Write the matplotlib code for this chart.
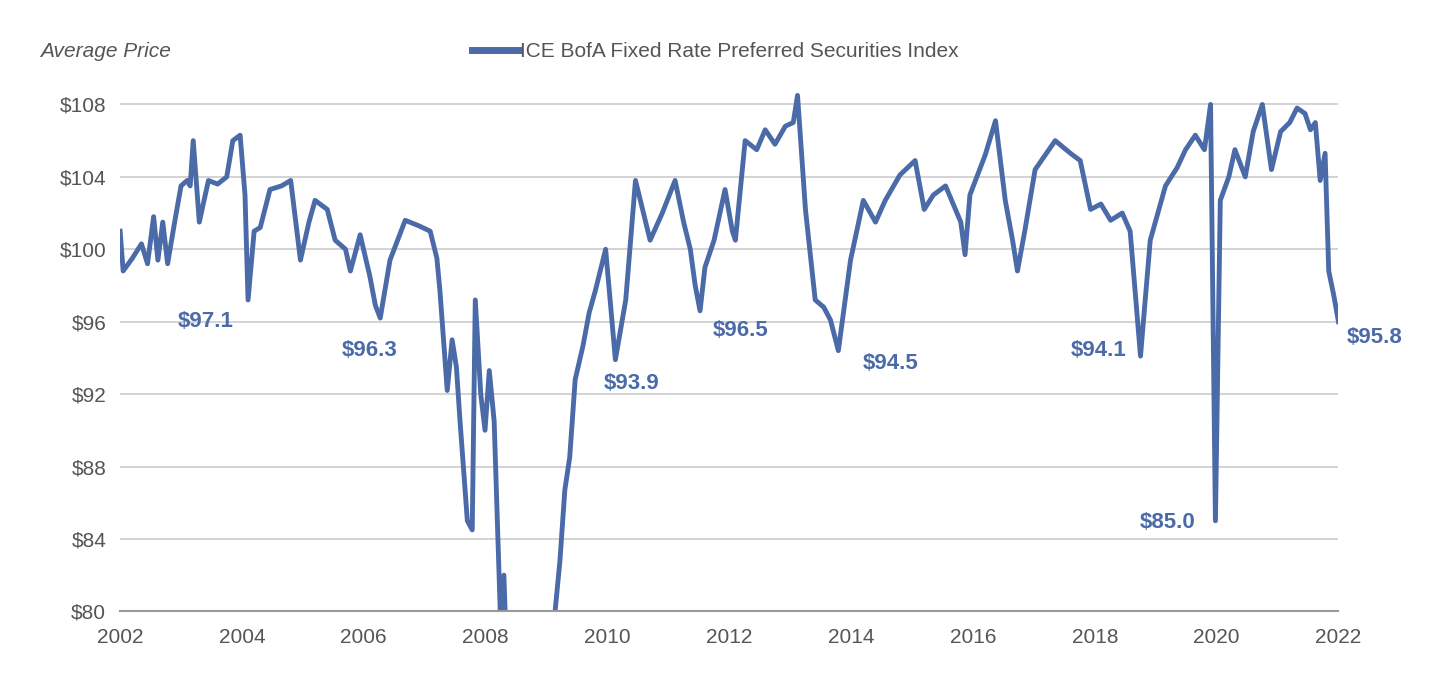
import matplotlib.pyplot as plt
from matplotlib.lines import Line2D

# index level (fractional year, price)
years = [2002.0, 2002.05, 2002.2, 2002.35, 2002.45, 2002.55, 2002.62, 2002.7, 2002.78, 2002.9, 2003.0,
         2003.1, 2003.15, 2003.2, 2003.3, 2003.45, 2003.6, 2003.75, 2003.85, 2003.97, 2004.05, 2004.1,
         2004.2, 2004.3, 2004.46, 2004.65, 2004.8, 2004.96, 2005.1, 2005.2, 2005.4, 2005.53, 2005.7,
         2005.78, 2005.94, 2006.1, 2006.19, 2006.27, 2006.43, 2006.68, 2006.9, 2007.09, 2007.2, 2007.25,
         2007.37, 2007.45, 2007.52, 2007.58, 2007.7, 2007.78, 2007.83, 2007.92, 2007.99, 2008.06, 2008.14,
         2008.24, 2008.3, 2008.36, 2008.5, 2008.7, 2008.9, 2009.05, 2009.14, 2009.22, 2009.3, 2009.38,
         2009.47, 2009.6, 2009.7, 2009.8, 2009.97, 2010.13, 2010.3, 2010.46, 2010.7, 2010.9, 2011.11,
         2011.25, 2011.36, 2011.44, 2011.52, 2011.6, 2011.75, 2011.93, 2012.05, 2012.1, 2012.26, 2012.45,
         2012.59, 2012.75, 2012.92, 2013.05, 2013.12, 2013.25, 2013.41, 2013.55, 2013.66, 2013.79, 2013.99,
         2014.2, 2014.4, 2014.56, 2014.8, 2015.05, 2015.2, 2015.35, 2015.55, 2015.8, 2015.87, 2015.95,
         2016.2, 2016.37, 2016.53, 2016.65, 2016.73, 2016.85, 2017.02, 2017.35, 2017.6, 2017.76, 2017.93,
         2018.1, 2018.26, 2018.45, 2018.58, 2018.75, 2018.91, 2019.16, 2019.35, 2019.49, 2019.65, 2019.8,
         2019.9, 2019.98, 2020.06, 2020.2, 2020.3, 2020.47, 2020.6, 2020.75, 2020.9, 2021.05, 2021.2,
         2021.32, 2021.45, 2021.54, 2021.62, 2021.7, 2021.78, 2021.84, 2021.92, 2022.0]
prices = [101.0, 98.8, 99.5, 100.3, 99.2, 101.8, 99.4, 101.5, 99.2, 101.6, 103.5,
          103.8, 103.5, 106.0, 101.5, 103.8, 103.6, 104.0, 106.0, 106.3, 103.0, 97.2,
          101.0, 101.2, 103.3, 103.5, 103.8, 99.4, 101.5, 102.7, 102.2, 100.5, 100.0,
          98.8, 100.8, 98.5, 96.9, 96.2, 99.4, 101.6, 101.3, 101.0, 99.5, 97.7,
          92.2, 95.0, 93.5, 90.5, 85.0, 84.5, 97.2, 92.0, 90.0, 93.3, 90.5,
          80.0, 82.0, 76.0, 70.0, 62.0, 65.0, 72.0, 80.0, 82.8, 86.7, 88.5,
          92.8, 94.7, 96.5, 97.7, 100.0, 93.9, 97.2, 103.8, 100.5, 102.0, 103.8,
          101.5, 100.0, 98.0, 96.6, 99.0, 100.5, 103.3, 101.0, 100.5, 106.0, 105.5,
          106.6, 105.8, 106.8, 107.0, 108.5, 102.2, 97.2, 96.8, 96.1, 94.4, 99.4,
          102.7, 101.5, 102.7, 104.1, 104.9, 102.2, 103.0, 103.5, 101.5, 99.7, 103.0,
          105.2, 107.1, 102.7, 100.5, 98.8, 101.0, 104.4, 106.0, 105.3, 104.9, 102.2,
          102.5, 101.6, 102.0, 101.0, 94.1, 100.5, 103.5, 104.5, 105.5, 106.3, 105.5,
          108.0, 85.0, 102.7, 104.0, 105.5, 104.0, 106.5, 108.0, 104.4, 106.5, 107.0,
          107.8, 107.5, 106.6, 107.0, 103.8, 105.3, 98.8, 97.5, 96.0]

ticks_y = [80, 84, 88, 92, 96, 100, 104, 108]
ticks_x = list(range(2002, 2023, 2))

ann_text = ['$97.1', '$96.3', '$93.9', '$96.5', '$94.5', '$94.1', '$85.0', '$95.8']
ann_x = [2003.4, 2006.1, 2010.4, 2012.18, 2014.65, 2018.06, 2019.2, 2022.6]
ann_y = [96.0, 94.4, 92.6, 95.5, 93.7, 94.4, 84.9, 95.1]

blue = '#4a6aa8'
grey = '#555555'
plt.rcParams['font.family'] = ['Liberation Sans', 'DejaVu Sans']

fig = plt.figure(figsize=(14.3, 6.9), dpi=100)
ax = fig.add_axes([0.084, 0.114, 0.852, 0.774])
ax.plot(years, prices, color=blue, lw=3.5, solid_joinstyle='round', clip_on=True)
ax.set_xlim(2002, 2022)
ax.set_ylim(80, 109.5)
ax.set_yticks(ticks_y)
ax.set_yticklabels(['$%d' % v for v in ticks_y])
ax.set_xticks(ticks_x)
ax.grid(axis='y', color='#cccccc', lw=1.2)
ax.set_axisbelow(True)
for s in ['top', 'right', 'left']:
    ax.spines[s].set_visible(False)
ax.spines['bottom'].set_color('#999999')
ax.spines['bottom'].set_linewidth(1.5)
ax.tick_params(length=0, labelsize=15, colors=grey, pad=10)
ax.tick_params(axis='x', pad=12)

for t, x, y in zip(ann_text, ann_x, ann_y):
    ax.text(x, y, t, color=blue, fontsize=16, fontweight='bold', ha='center', va='center', clip_on=False)

fig.text(0.028, 0.918, 'Average Price', fontsize=15, style='italic', color=grey)
handle = Line2D([0], [0], color=blue, lw=5)
fig.legend([handle], ['ICE BofA Fixed Rate Preferred Securities Index'], loc='center',
           bbox_to_anchor=(0.5, 0.925), frameon=False, fontsize=15, handlelength=2.2,
           handletextpad=0.1, labelcolor=grey)

fig.savefig('out.png', dpi=100)
